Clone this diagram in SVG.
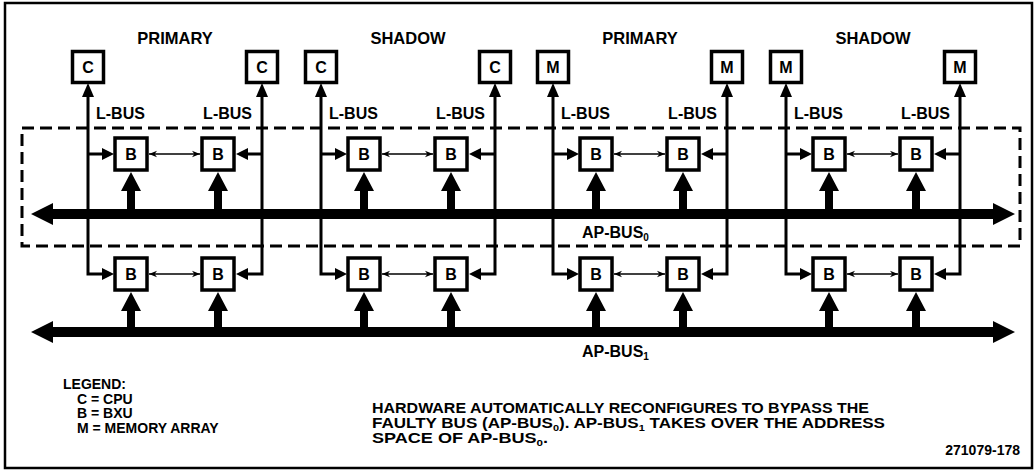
<svg xmlns="http://www.w3.org/2000/svg" width="1036" height="476" viewBox="0 0 1036 476">
<defs>
<style>
text{font-family:"Liberation Sans",Arial,sans-serif;font-weight:bold;fill:#000}
.box{fill:#fff;stroke:#000;stroke-width:3.5}
.lbl{font-size:16px;text-anchor:middle}
.ttl{font-size:16.5px;text-anchor:middle}
.lbus{font-size:16px}
.ln{fill:none;stroke:#000;stroke-width:3}
.thin{fill:none;stroke:#000;stroke-width:1.5}
.ah{fill:#000}
.txt{font-size:14px}
</style>
<marker id="sa" viewBox="0 0 10 10" refX="10" refY="5" markerWidth="8" markerHeight="8" markerUnits="userSpaceOnUse" orient="auto-start-reverse">
<path d="M0,1 L10,5 L0,9 L3,5 Z" fill="#000"/>
</marker>
</defs>
<rect x="5" y="3" width="1027" height="465" fill="#fff" stroke="#000" stroke-width="2.5"/>
<rect id="faulty-region" x="22" y="128" width="998" height="118" fill="none" stroke="#000" stroke-width="3" stroke-dasharray="12 6"/>

<g id="titles">
<text class="ttl" x="175" y="44">PRIMARY</text>
<text class="ttl" x="408" y="44">SHADOW</text>
<text class="ttl" x="640" y="44">PRIMARY</text>
<text class="ttl" x="873" y="44">SHADOW</text>
</g>

<g id="connectors">
<polygon id="apbus0" class="ah" points="31,214 53,203 53,209 993,209 993,203 1015,214 993,225 993,219 53,219 53,225"/>
<polygon id="apbus1" class="ah" points="31,332 53,321 53,327 993,327 993,321 1015,332 993,343 993,337 53,337 53,343"/>
<!-- group 1 L=88 R=262 -->
<path class="ln" d="M88 95 V274 H103 M88 154 H103"/>
<polygon class="ah" points="88,83 82,97 94,97"/>
<polygon class="ah" points="114,154 102,148 102,160"/>
<polygon class="ah" points="114,274 102,268 102,280"/>
<path class="ln" d="M262 95 V274 H247 M262 154 H247"/>
<polygon class="ah" points="262,83 256,97 268,97"/>
<polygon class="ah" points="236,154 248,148 248,160"/>
<polygon class="ah" points="236,274 248,268 248,280"/>
<line class="thin" x1="149" y1="154" x2="200" y2="154" marker-start="url(#sa)" marker-end="url(#sa)"/>
<line class="thin" x1="149" y1="274" x2="200" y2="274" marker-start="url(#sa)" marker-end="url(#sa)"/>
<polygon class="ah" points="131,172 141,191 135,191 135,214 127,214 127,191 121,191"/>
<polygon class="ah" points="218,172 228,191 222,191 222,214 214,214 214,191 208,191"/>
<polygon class="ah" points="131,292 141,311 135,311 135,332 127,332 127,311 121,311"/>
<polygon class="ah" points="218,292 228,311 222,311 222,332 214,332 214,311 208,311"/>
<!-- group 2 L=321 R=495 -->
<path class="ln" d="M321 95 V274 H336 M321 154 H336"/>
<polygon class="ah" points="321,83 315,97 327,97"/>
<polygon class="ah" points="347,154 335,148 335,160"/>
<polygon class="ah" points="347,274 335,268 335,280"/>
<path class="ln" d="M495 95 V274 H480 M495 154 H480"/>
<polygon class="ah" points="495,83 489,97 501,97"/>
<polygon class="ah" points="469,154 481,148 481,160"/>
<polygon class="ah" points="469,274 481,268 481,280"/>
<line class="thin" x1="382" y1="154" x2="433" y2="154" marker-start="url(#sa)" marker-end="url(#sa)"/>
<line class="thin" x1="382" y1="274" x2="433" y2="274" marker-start="url(#sa)" marker-end="url(#sa)"/>
<polygon class="ah" points="364,172 374,191 368,191 368,214 360,214 360,191 354,191"/>
<polygon class="ah" points="451,172 461,191 455,191 455,214 447,214 447,191 441,191"/>
<polygon class="ah" points="364,292 374,311 368,311 368,332 360,332 360,311 354,311"/>
<polygon class="ah" points="451,292 461,311 455,311 455,332 447,332 447,311 441,311"/>
<!-- group 3 L=553 R=727 -->
<path class="ln" d="M553 95 V274 H568 M553 154 H568"/>
<polygon class="ah" points="553,83 547,97 559,97"/>
<polygon class="ah" points="579,154 567,148 567,160"/>
<polygon class="ah" points="579,274 567,268 567,280"/>
<path class="ln" d="M727 95 V274 H712 M727 154 H712"/>
<polygon class="ah" points="727,83 721,97 733,97"/>
<polygon class="ah" points="701,154 713,148 713,160"/>
<polygon class="ah" points="701,274 713,268 713,280"/>
<line class="thin" x1="614" y1="154" x2="665" y2="154" marker-start="url(#sa)" marker-end="url(#sa)"/>
<line class="thin" x1="614" y1="274" x2="665" y2="274" marker-start="url(#sa)" marker-end="url(#sa)"/>
<polygon class="ah" points="596,172 606,191 600,191 600,214 592,214 592,191 586,191"/>
<polygon class="ah" points="683,172 693,191 687,191 687,214 679,214 679,191 673,191"/>
<polygon class="ah" points="596,292 606,311 600,311 600,332 592,332 592,311 586,311"/>
<polygon class="ah" points="683,292 693,311 687,311 687,332 679,332 679,311 673,311"/>
<!-- group 4 L=786 R=960 -->
<path class="ln" d="M786 95 V274 H801 M786 154 H801"/>
<polygon class="ah" points="786,83 780,97 792,97"/>
<polygon class="ah" points="812,154 800,148 800,160"/>
<polygon class="ah" points="812,274 800,268 800,280"/>
<path class="ln" d="M960 95 V274 H945 M960 154 H945"/>
<polygon class="ah" points="960,83 954,97 966,97"/>
<polygon class="ah" points="934,154 946,148 946,160"/>
<polygon class="ah" points="934,274 946,268 946,280"/>
<line class="thin" x1="847" y1="154" x2="898" y2="154" marker-start="url(#sa)" marker-end="url(#sa)"/>
<line class="thin" x1="847" y1="274" x2="898" y2="274" marker-start="url(#sa)" marker-end="url(#sa)"/>
<polygon class="ah" points="829,172 839,191 833,191 833,214 825,214 825,191 819,191"/>
<polygon class="ah" points="916,172 926,191 920,191 920,214 912,214 912,191 906,191"/>
<polygon class="ah" points="829,292 839,311 833,311 833,332 825,332 825,311 819,311"/>
<polygon class="ah" points="916,292 926,311 920,311 920,332 912,332 912,311 906,311"/>
</g>

<g id="bus-labels">
<text class="lbus" x="96" y="119">L-BUS</text>
<text class="lbus" x="252" y="119" text-anchor="end">L-BUS</text>
<text class="lbus" x="329" y="119">L-BUS</text>
<text class="lbus" x="485" y="119" text-anchor="end">L-BUS</text>
<text class="lbus" x="561" y="119">L-BUS</text>
<text class="lbus" x="717" y="119" text-anchor="end">L-BUS</text>
<text class="lbus" x="794" y="119">L-BUS</text>
<text class="lbus" x="950" y="119" text-anchor="end">L-BUS</text>
<text x="582" y="238" font-size="16">AP-BUS<tspan font-size="10" dy="3">0</tspan></text>
<text x="582" y="357" font-size="16">AP-BUS<tspan font-size="10" dy="3">1</tspan></text>
</g>

<g id="c1"><rect class="box" x="72.5" y="51.5" width="31" height="31"/><text class="lbl" x="88" y="73">C</text></g>
<g id="c2"><rect class="box" x="246.5" y="51.5" width="31" height="31"/><text class="lbl" x="262" y="73">C</text></g>
<g id="c3"><rect class="box" x="305.5" y="51.5" width="31" height="31"/><text class="lbl" x="321" y="73">C</text></g>
<g id="c4"><rect class="box" x="479.5" y="51.5" width="31" height="31"/><text class="lbl" x="495" y="73">C</text></g>
<g id="m1"><rect class="box" x="537.5" y="51.5" width="31" height="31"/><text class="lbl" x="553" y="73">M</text></g>
<g id="m2"><rect class="box" x="711.5" y="51.5" width="31" height="31"/><text class="lbl" x="727" y="73">M</text></g>
<g id="m3"><rect class="box" x="770.5" y="51.5" width="31" height="31"/><text class="lbl" x="786" y="73">M</text></g>
<g id="m4"><rect class="box" x="944.5" y="51.5" width="31" height="31"/><text class="lbl" x="960" y="73">M</text></g>

<g id="b1u"><rect class="box" x="115" y="138" width="32" height="32"/><text class="lbl" x="131" y="160">B</text></g>
<g id="b2u"><rect class="box" x="202" y="138" width="32" height="32"/><text class="lbl" x="218" y="160">B</text></g>
<g id="b3u"><rect class="box" x="348" y="138" width="32" height="32"/><text class="lbl" x="364" y="160">B</text></g>
<g id="b4u"><rect class="box" x="435" y="138" width="32" height="32"/><text class="lbl" x="451" y="160">B</text></g>
<g id="b5u"><rect class="box" x="580" y="138" width="32" height="32"/><text class="lbl" x="596" y="160">B</text></g>
<g id="b6u"><rect class="box" x="667" y="138" width="32" height="32"/><text class="lbl" x="683" y="160">B</text></g>
<g id="b7u"><rect class="box" x="813" y="138" width="32" height="32"/><text class="lbl" x="829" y="160">B</text></g>
<g id="b8u"><rect class="box" x="900" y="138" width="32" height="32"/><text class="lbl" x="916" y="160">B</text></g>
<g id="b1l"><rect class="box" x="115" y="258" width="32" height="32"/><text class="lbl" x="131" y="280">B</text></g>
<g id="b2l"><rect class="box" x="202" y="258" width="32" height="32"/><text class="lbl" x="218" y="280">B</text></g>
<g id="b3l"><rect class="box" x="348" y="258" width="32" height="32"/><text class="lbl" x="364" y="280">B</text></g>
<g id="b4l"><rect class="box" x="435" y="258" width="32" height="32"/><text class="lbl" x="451" y="280">B</text></g>
<g id="b5l"><rect class="box" x="580" y="258" width="32" height="32"/><text class="lbl" x="596" y="280">B</text></g>
<g id="b6l"><rect class="box" x="667" y="258" width="32" height="32"/><text class="lbl" x="683" y="280">B</text></g>
<g id="b7l"><rect class="box" x="813" y="258" width="32" height="32"/><text class="lbl" x="829" y="280">B</text></g>
<g id="b8l"><rect class="box" x="900" y="258" width="32" height="32"/><text class="lbl" x="916" y="280">B</text></g>

<g id="legend">
<text class="txt" x="63" y="389">LEGEND:</text>
<text class="txt" x="77" y="403.5">C = CPU</text>
<text class="txt" x="77" y="418">B = BXU</text>
<text class="txt" x="77" y="432.5">M = MEMORY ARRAY</text>
</g>
<g id="note">
<text class="txt" x="372" y="413" textLength="497" lengthAdjust="spacingAndGlyphs">HARDWARE AUTOMATICALLY RECONFIGURES TO BYPASS THE</text>
<text class="txt" x="372" y="428" textLength="513" lengthAdjust="spacingAndGlyphs">FAULTY BUS (AP-BUS<tspan font-size="9" dy="2.5">0</tspan><tspan dy="-2.5">). AP-BUS</tspan><tspan font-size="9" dy="2.5">1</tspan><tspan dy="-2.5"> TAKES OVER THE ADDRESS</tspan></text>
<text class="txt" x="372" y="443" textLength="176" lengthAdjust="spacingAndGlyphs">SPACE OF AP-BUS<tspan font-size="9" dy="2.5">0</tspan><tspan dy="-2.5">.</tspan></text>
<text class="txt" x="1020" y="455" text-anchor="end" font-size="16">271079-178</text>
</g>
</svg>
